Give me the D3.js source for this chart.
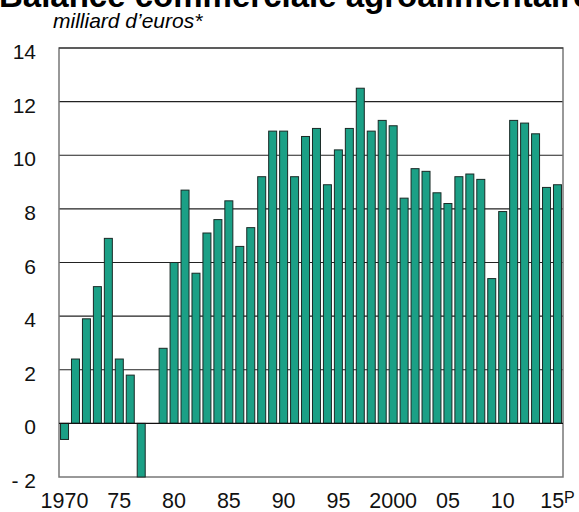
<!DOCTYPE html>
<html><head><meta charset="utf-8">
<script src="https://cdn.jsdelivr.net/npm/d3@7"></script>
<style>body{margin:0;background:#fff}svg{display:block}text{font-family:"Liberation Sans",Arial,sans-serif}</style>
</head><body><svg id="c" width="579" height="512"></svg>
<script>
const years = d3.range(1970, 2016);
const values = [-0.6,2.4,3.9,5.1,6.9,2.4,1.8,-2.0,0.0,2.8,
  6.0,8.7,5.6,7.1,7.6,8.3,6.6,7.3,9.2,10.9,
  10.9,9.2,10.7,11.0,8.9,10.2,11.0,12.5,10.9,11.3,
  11.1,8.4,9.5,9.4,8.6,8.2,9.2,9.3,9.1,5.4,
  7.9,11.3,11.2,10.8,8.8,8.9];
const yTicks = [-2,0,2,4,6,8,10,12,14];
const xTickYears = [1970,1975,1980,1985,1990,1995,2000,2005,2010,2015];
const xTickLabels = ["1970","75","80","85","90","95","2000","05","10","15"];
const title = "Balance commerciale agroalimentaire";
const subtitle = "milliard d\u2019euros*";

const svg = d3.select("#c");
const L=59, R=563, T=48, B=477;
const x = d3.scaleBand().domain(years).range([L,R]).paddingInner(0.27).paddingOuter(0.14);
const y = d3.scaleLinear().domain([-2,14]).range([B,T]);

svg.append("text").attr("x",-1).attr("y",7).attr("font-size",33).attr("font-weight","bold").text(title);
svg.append("text").attr("x",53).attr("y",28).attr("font-size",21).attr("font-style","italic").text(subtitle);

// grid
svg.append("g").selectAll("line").data(yTicks.filter(v=>v>-2&&v<14&&v!==0)).join("line")
  .attr("x1",L).attr("x2",R).attr("y1",d=>y(d)).attr("y2",d=>y(d))
  .attr("stroke","#222").attr("stroke-width",1.1);

// frame
svg.append("rect").attr("x",L).attr("y",T).attr("width",R-L).attr("height",B-T)
  .attr("fill","none").attr("stroke","#777").attr("stroke-width",1.5);
svg.append("line").attr("x1",L).attr("x2",R).attr("y1",T).attr("y2",T).attr("stroke","#222").attr("stroke-width",1.2);

// bars
svg.append("g").selectAll("rect").data(years).join("rect")
  .attr("x",d=>x(d)).attr("width",x.bandwidth())
  .attr("y",(d,i)=>y(Math.max(0,values[i])))
  .attr("height",(d,i)=>Math.abs(y(values[i])-y(0)))
  .attr("fill","#1ba086").attr("stroke","#1a2a26").attr("stroke-width",1);

// zero line
svg.append("line").attr("x1",L).attr("x2",R).attr("y1",y(0)).attr("y2",y(0)).attr("stroke","#111").attr("stroke-width",1.3);

// y axis labels
const ya = svg.append("g").attr("transform",`translate(${L},0)`)
  .call(d3.axisLeft(y).tickValues(yTicks).tickSize(0).tickPadding(23)
    .tickFormat(d=>d<0?"- "+Math.abs(d):d));
ya.select(".domain").remove();
ya.selectAll("text").attr("font-size",21).attr("dy","0.5em").attr("fill","#111").attr("font-family","Liberation Sans, Arial, sans-serif");

// x axis labels
const xa = svg.append("g").attr("transform",`translate(0,${B})`)
  .call(d3.axisBottom(x).tickValues(xTickYears).tickSize(0).tickPadding(16)
    .tickFormat(d=>xTickLabels[xTickYears.indexOf(d)]));
xa.select(".domain").remove();
xa.selectAll("text").attr("font-size",21.5).attr("fill","#111").attr("font-family","Liberation Sans, Arial, sans-serif");
xa.selectAll("text").filter(d=>d===2015).append("tspan").attr("font-size",16).attr("dy","-0.3em").text("P");
</script></body></html>
